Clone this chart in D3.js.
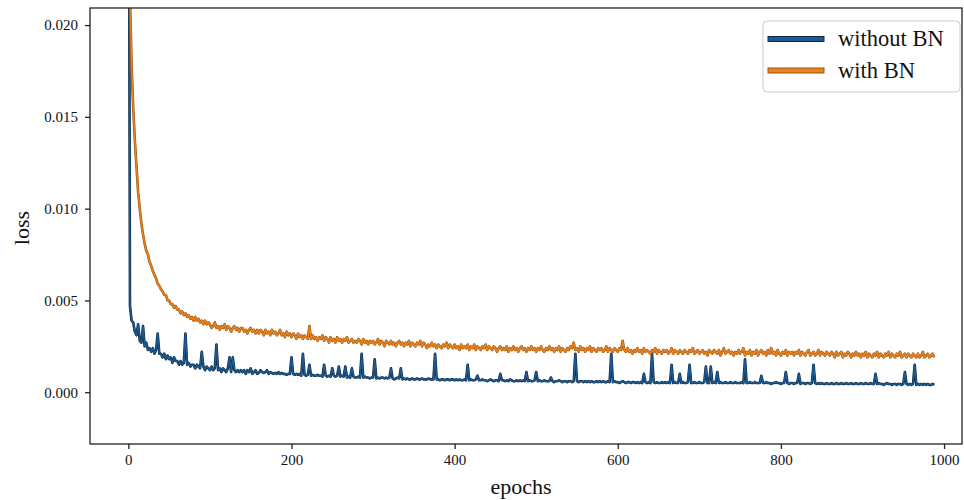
<!DOCTYPE html>
<html lang="en">

<head>
    <meta charset="utf-8">
    <script src='https://d3js.org/d3.v7.min.js'></script>
    <style>
        body { margin: 0; background: #fff; }
        text { font-family: "Liberation Serif", "DejaVu Serif", serif; fill: #111; }
    </style>
</head>

<body>
    <script>
            // one value every 2 epochs, epochs 0..988
            const epochStep = 2

            const withoutBN = [
                .0450,.0047,.0039,.0038,.0033,.0031,.0037,.0028,.0027,.0036,
                .0025,.0027,.0023,.0024,.0022,.0024,.0021,.0023,.0032,.0021,
                .0021,.0019,.0021,.0018,.0020,.0018,.0019,.0016,.0019,.0017,
                .0017,.0015,.0017,.0015,.0016,.0032,.0015,.0016,.0014,.0015,
                .0015,.0013,.0015,.0014,.0013,.0022,.0014,.0012,.0014,.0013,
                .0012,.0014,.0012,.0013,.0026,.0012,.0013,.0011,.0013,.0012,
                .0011,.0013,.0019,.0011,.0019,.0012,.0011,.0012,.0011,.0012,
                .0011,.0012,.0010,.0012,.0011,.0013,.0010,.0011,.0012,.0010,
                .00105,.0012,.0011,.00105,.0011,.0012,.0010,.0011,.00105,.0010,
                .00105,.0010,.0011,.0010,.00105,.0010,.0010,.00095,.0010,.0010,
                .0019,.0010,.00095,.0010,.00095,.0010,.0009,.0021,.00095,.0009,
                .00095,.0015,.0009,.00095,.0009,.0009,.00095,.0009,.0009,.00085,
                .0015,.0009,.00085,.0009,.00085,.0013,.0009,.00085,.0009,.0014,
                .00085,.0009,.00085,.0014,.0008,.00085,.0008,.0013,.00085,.0008,
                .0008,.00085,.0008,.0021,.0008,.00085,.0008,.0008,.00075,.0008,
                .0008,.0018,.00075,.0008,.00075,.0008,.0008,.00075,.0008,.00075,
                .0008,.0013,.00075,.0007,.00075,.0008,.00075,.0013,.0007,.00075,
                .0007,.00075,.0007,.0007,.00075,.0007,.0007,.00075,.0007,.0007,
                .00075,.0007,.0007,.0007,.00075,.0007,.0007,.0007,.0021,.0007,
                .0007,.00065,.0007,.0007,.00065,.0007,.0007,.00065,.0007,.0007,
                .00065,.0007,.00065,.0007,.00065,.00065,.0007,.00065,.0015,.00065,
                .0007,.00065,.00065,.0007,.0009,.00065,.00065,.0007,.00065,.00065,
                .0006,.00065,.0007,.00065,.0006,.00065,.00065,.0006,.0010,.00065,
                .00065,.0006,.00065,.0006,.0007,.00065,.0006,.0006,.00065,.0006,
                .00065,.0006,.00065,.0006,.0011,.0006,.00065,.0006,.0006,.00065,
                .0011,.0006,.00065,.0006,.0006,.00065,.0006,.0006,.0006,.0008,
                .0006,.00055,.0006,.0006,.00065,.0006,.00055,.0006,.0006,.00055,
                .0006,.0006,.00055,.0006,.0021,.0006,.00055,.0006,.0006,.00055,
                .0006,.00055,.0006,.00055,.0006,.00055,.00055,.0006,.00055,.0006,
                .00055,.0006,.00055,.00055,.0006,.00055,.0021,.00055,.0006,.00055,
                .00055,.0005,.00055,.0006,.00055,.0005,.00055,.00055,.0005,.00055,
                .00055,.0005,.00055,.0005,.00055,.0005,.0010,.00055,.0005,.00055,
                .0005,.0021,.00055,.0005,.00055,.0005,.0005,.00055,.0005,.00055,
                .0005,.00055,.0005,.0015,.0005,.00055,.0005,.0005,.0010,.0005,
                .00055,.0005,.0005,.00055,.0015,.0005,.0005,.00055,.0005,.0005,
                .00055,.0005,.0005,.00055,.0014,.0005,.0005,.0014,.0005,.00055,
                .0005,.0011,.0005,.00055,.0005,.0005,.00055,.0005,.0005,.00055,
                .0005,.0005,.00055,.0005,.0005,.0005,.00055,.0005,.0018,.0005,
                .0005,.00055,.0005,.0005,.00055,.0005,.0005,.0005,.0009,.0005,
                .0005,.00055,.0005,.0005,.00045,.0005,.0005,.00055,.0005,.0005,
                .00045,.0005,.0005,.0011,.0005,.00045,.0005,.0005,.00045,.0005,
                .0005,.0010,.00045,.0005,.0005,.00045,.0005,.0005,.00045,.0005,
                .0015,.0005,.00045,.0005,.00045,.0005,.00045,.00045,.0005,.00045,
                .00045,.0005,.00045,.00045,.0005,.00045,.00045,.0005,.00045,.00045,
                .0005,.00045,.00045,.0005,.00045,.00045,.0005,.00045,.00045,.0005,
                .00045,.00045,.0005,.00045,.00045,.0005,.00045,.00045,.0010,.00045,
                .0005,.00045,.00045,.0004,.00045,.0005,.00045,.00045,.0004,.00045,
                .00045,.0004,.00045,.00045,.0004,.00045,.0011,.00045,.0004,.00045,
                .0004,.00045,.0015,.0004,.00045,.0004,.00045,.0004,.00045,.0004,
                .00045,.0004,.0004,.00045,.0004
            ]

            const withBN = [
                .0500,.0215,.0178,.0155,.0137,.0123,.0109,.0100,.0092,.0086,
                .0081,.0077,.0075,.0071,.0069,.0066,.0064,.0062,.0059,.0058,
                .0056,.0055,.0053,.0053,.0050,.0050,.0048,.0048,.0046,.0047,
                .0045,.0045,.0043,.0044,.0042,.0043,.0041,.0042,.0040,.0041,
                .0039,.0041,.0039,.0040,.0038,.0039,.0037,.0039,.0037,.0038,
                .0037,.0035,.0036,.0038,.0035,.0036,.0034,.0036,.0035,.0037,
                .0034,.0036,.0035,.0033,.0035,.0036,.0034,.0035,.0033,.0035,
                .0035,.0033,.0034,.0032,.0034,.0035,.0033,.0034,.0032,.0034,
                .0032,.0034,.0033,.0031,.0034,.0032,.0033,.0031,.0034,.0032,
                .0033,.0031,.0032,.0034,.0031,.0032,.0030,.0033,.0031,.0032,
                .0030,.0032,.0031,.0029,.0032,.0030,.0031,.0029,.0031,.0030,
                .0029,.0036,.0029,.0031,.0029,.0030,.0028,.0030,.0029,.0031,
                .0028,.0030,.0029,.0027,.0030,.0028,.0029,.0027,.0030,.0028,
                .0029,.0027,.0029,.0028,.0030,.0027,.0028,.0029,.0027,.0028,
                .0027,.0029,.0028,.0026,.0029,.0027,.0028,.0026,.0028,.0027,
                .0028,.0026,.0027,.0029,.0026,.0028,.0027,.0025,.0028,.0027,
                .0026,.0028,.0026,.0027,.0025,.0027,.0028,.0026,.0027,.0025,
                .0027,.0026,.0028,.0025,.0027,.0026,.0025,.0027,.0026,.0028,
                .0025,.0027,.0026,.0024,.0026,.0025,.0027,.0025,.0026,.0024,
                .0026,.0025,.0024,.0026,.0025,.0027,.0024,.0026,.0025,.0024,
                .0026,.0024,.0025,.0023,.0026,.0024,.0025,.0024,.0026,.0023,
                .0025,.0024,.0026,.0023,.0025,.0024,.0023,.0025,.0024,.0026,
                .0023,.0025,.0024,.0023,.0025,.0024,.0022,.0024,.0025,.0023,
                .0024,.0023,.0025,.0022,.0024,.0023,.0025,.0023,.0024,.0022,
                .0024,.0025,.0023,.0024,.0022,.0024,.0023,.0025,.0023,.0024,
                .0022,.0024,.0023,.0025,.0023,.0022,.0024,.0023,.0025,.0023,
                .0024,.0022,.0024,.0023,.0025,.0022,.0024,.0023,.0022,.0024,
                .0023,.0025,.0024,.0027,.0023,.0024,.0022,.0025,.0023,.0024,
                .0022,.0024,.0023,.0025,.0022,.0024,.0023,.0022,.0024,.0023,
                .0024,.0022,.0023,.0025,.0022,.0024,.0023,.0022,.0024,.0023,
                .0022,.0024,.0023,.0028,.0023,.0022,.0024,.0022,.0023,.0021,
                .0023,.0022,.0024,.0022,.0023,.0021,.0024,.0022,.0023,.0022,
                .0021,.0023,.0022,.0024,.0021,.0023,.0022,.0021,.0023,.0022,
                .0023,.0021,.0022,.0024,.0021,.0023,.0022,.0021,.0023,.0022,
                .0021,.0023,.0022,.0021,.0023,.0022,.0024,.0021,.0022,.0023,
                .0021,.0022,.0023,.0021,.0022,.0020,.0023,.0022,.0021,.0023,
                .0022,.0021,.0023,.0020,.0022,.0024,.0021,.0022,.0023,.0021,
                .0022,.0020,.0022,.0021,.0023,.0021,.0022,.0024,.0020,.0022,
                .0021,.0023,.0020,.0022,.0021,.0023,.0020,.0022,.0023,.0021,
                .0022,.0020,.0023,.0021,.0024,.0021,.0022,.0020,.0023,.0021,
                .0020,.0022,.0021,.0023,.0020,.0022,.0021,.0022,.0020,.0022,
                .0021,.0023,.0020,.0022,.0021,.0020,.0022,.0023,.0020,.0021,
                .0022,.0020,.0021,.0023,.0020,.0022,.0021,.0020,.0022,.0021,
                .0020,.0022,.0021,.0019,.0022,.0020,.0021,.0022,.0019,.0021,
                .0020,.0022,.0021,.0019,.0021,.0020,.0022,.0020,.0021,.0019,
                .0021,.0020,.0022,.0019,.0021,.0020,.0019,.0021,.0020,.0022,
                .0019,.0021,.0020,.0019,.0021,.0020,.0022,.0019,.0021,.0020,
                .0019,.0021,.0020,.0022,.0019,.0020,.0021,.0019,.0021,.0020,
                .0019,.0021,.0020,.0019,.0021,.0019,.0020,.0022,.0019,.0020,
                .0021,.0019,.0020,.0021,.0019
            ]

            const seriesNames = ["without BN", "with BN"]
            const seriesColors = ["#1d5a92", "#e8831e"]
            const seriesEdges = ["#0c2742", "#9a5210"]
            const xTicks = [0, 200, 400, 600, 800, 1000]
            const yTicks = [0.000, 0.005, 0.010, 0.015, 0.020]

            const plotLeft = 90, plotRight = 962, plotTop = 8, plotBottom = 444

            var xScale = d3.scaleLinear()
                        .domain([-47, 1022])
                        .range([plotLeft, plotRight])
            var yScale = d3.scaleLinear()
                        .domain([-0.00282, 0.02093])
                        .range([plotBottom, plotTop])

            const svg = d3.select("body")
                .append("svg")
                .attr('width', 964)
                .attr('height', 500)

            svg.append("defs").append("clipPath")
                .attr("id", "plot")
                .append("rect")
                .attr("x", plotLeft).attr("y", plotTop)
                .attr("width", plotRight - plotLeft).attr("height", plotBottom - plotTop)

            const line = d3.line()
                .x(function(d, i) { return xScale(i * epochStep) })
                .y(function(d) { return yScale(d) })

            const lines = svg.append("g").attr("clip-path", "url(#plot)")
            ;[withoutBN, withBN].forEach(function(data, k) {
                lines.append("path")
                    .datum(data)
                    .attr("fill", "none")
                    .attr("stroke", seriesEdges[k])
                    .attr("stroke-width", 2.6)
                    .attr("stroke-linejoin", "round")
                    .attr("d", line)
                lines.append("path")
                    .datum(data)
                    .attr("fill", "none")
                    .attr("stroke", seriesColors[k])
                    .attr("stroke-width", 1.5)
                    .attr("stroke-linejoin", "round")
                    .attr("d", line)
            })

            // frame
            svg.append("rect")
                .attr("x", plotLeft).attr("y", plotTop)
                .attr("width", plotRight - plotLeft).attr("height", plotBottom - plotTop)
                .attr("fill", "none")
                .attr("stroke", "#222")
                .attr("stroke-width", 1.3)

            const xAxis = svg.append("g")
                .attr("transform", "translate(0," + plotBottom + ")")
                .call(d3.axisBottom(xScale).tickValues(xTicks).tickSize(5).tickPadding(5).tickFormat(d3.format("d")))
            const yAxis = svg.append("g")
                .attr("transform", "translate(" + plotLeft + ",0)")
                .call(d3.axisLeft(yScale).tickValues(yTicks).tickSize(5).tickPadding(7).tickFormat(d3.format(".3f")))

            ;[xAxis, yAxis].forEach(function(ax) {
                ax.select(".domain").remove()
                ax.selectAll("line").attr("stroke", "#222").attr("stroke-width", 1.3)
                ax.selectAll("text")
                    .style("font-family", "'Liberation Serif', serif")
                    .style("font-size", "15px")
                    .attr("fill", "#111")
            })

            svg.append("text")
                .attr("x", (plotLeft + plotRight) / 2 - 5)
                .attr("y", 494)
                .attr("text-anchor", "middle")
                .style("font-size", "22px")
                .text("epochs")

            svg.append("text")
                .attr("transform", "translate(29,228) rotate(-90)")
                .attr("text-anchor", "middle")
                .style("font-size", "22px")
                .text("loss")

            // legend
            const legend = svg.append("g")
            legend.append("rect")
                .attr("x", 763).attr("y", 21)
                .attr("width", 197).attr("height", 71)
                .attr("rx", 4)
                .attr("fill", "#fff")
                .attr("stroke", "#ccc")
                .attr("stroke-width", 1)
            seriesNames.forEach(function(name, k) {
                const y = 39 + k * 31.5
                legend.append("rect")
                    .attr("x", 768).attr("y", y - 2.5)
                    .attr("width", 56).attr("height", 5)
                    .attr("fill", seriesColors[k])
                    .attr("stroke", seriesEdges[k])
                    .attr("stroke-width", 1)
                legend.append("text")
                    .attr("x", 838).attr("y", y + 7)
                    .style("font-size", "22.5px")
                    .text(name)
            })
    </script>
</body>

</html>
